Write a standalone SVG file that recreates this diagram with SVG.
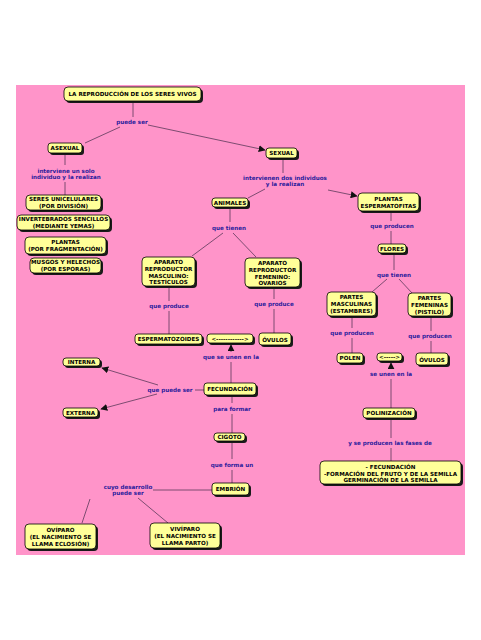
<svg xmlns="http://www.w3.org/2000/svg" width="481" height="640" viewBox="0 0 481 640">
<style>
.bg{fill:#ff94c9}
.sh{fill:#1a1a1a}
.bx{fill:#ffff99;stroke:#000;stroke-width:0.8}
.t{font-family:"DejaVu Sans",Verdana,sans-serif;font-weight:bold;font-size:5.6px;fill:#000;text-anchor:middle}
.l{font-family:"DejaVu Sans",Verdana,sans-serif;font-weight:bold;font-size:5.6px;fill:#2b1c9c;text-anchor:middle}
.c{stroke:#6e4466;stroke-width:0.9;fill:none}
.a{marker-end:url(#ah)}
</style>
<defs>
<marker id="ah" viewBox="0 0 10 10" refX="9" refY="5" markerWidth="7" markerHeight="7" markerUnits="userSpaceOnUse" orient="auto">
<path d="M0,0 L10,5 L0,10 z" fill="#111"/>
</marker>
</defs>
<rect width="481" height="640" fill="#fff"/>
<rect class="bg" x="16" y="85" width="449" height="470"/>

<g id="connectors">
<path class="c" d="M133,103 V117"/>
<path class="c" d="M120,127 L85,143"/>
<path class="c a" d="M148,125 L265,150"/>
<path class="c" d="M65,155 V165 M65,182 V195"/>
<path class="c" d="M283,160 V173"/>
<path class="c" d="M265,189 L248,198"/>
<path class="c a" d="M328,190 L357,196"/>
<path class="c" d="M230,209 V222"/>
<path class="c" d="M223,233 L192,256 M233,233 L256,257"/>
<path class="c" d="M169,288 V301 M169,311 V334"/>
<path class="c" d="M274,289 V299 M274,309 V333"/>
<path class="c" d="M231,383 V362"/>
<path class="c a" d="M231,352 V345"/>
<path class="c" d="M195,390 H204"/>
<path class="c a" d="M158,385 L102,368"/>
<path class="c a" d="M157,394 L101,409"/>
<path class="c" d="M232,397 V403 M232,414 V433"/>
<path class="c" d="M232,443 V459 M232,470 V483"/>
<path class="c" d="M212,490 H153"/>
<path class="c" d="M90,499 L82,523 M138,498 L168,523"/>
<path class="c" d="M391,213 V221 M391,231 V244"/>
<path class="c" d="M394,255 V270"/>
<path class="c" d="M387,279 L372,292 M399,279 L412,293"/>
<path class="c" d="M352,318 V328 M352,338 V353"/>
<path class="c" d="M431,318 V331 M431,341 V353"/>
<path class="c" d="M391,408 V379"/>
<path class="c a" d="M391,369 V363"/>
<path class="c" d="M391,420 V438 M391,448 V461"/>
</g>

<g id="labels">
<text class="l" x="132" y="124">puede ser</text>
<text class="l" x="66" y="173">interviene un solo</text>
<text class="l" x="66" y="179">individuo y la realizan</text>
<text class="l" x="285" y="180">intervienen dos individuos</text>
<text class="l" x="285" y="186">y la realizan</text>
<text class="l" x="229" y="230">que tienen</text>
<text class="l" x="169" y="308">que produce</text>
<text class="l" x="274" y="306">que produce</text>
<text class="l" x="231" y="359">que se unen en la</text>
<text class="l" x="170" y="392">que puede ser</text>
<text class="l" x="232" y="411">para formar</text>
<text class="l" x="232" y="467">que forma un</text>
<text class="l" x="128" y="489">cuyo desarrollo</text>
<text class="l" x="128" y="495">puede ser</text>
<text class="l" x="392" y="228">que producen</text>
<text class="l" x="394" y="277">que tienen</text>
<text class="l" x="352" y="335">que producen</text>
<text class="l" x="430" y="338">que producen</text>
<text class="l" x="391" y="376">se unen en la</text>
<text class="l" x="390" y="445">y se producen las fases de</text>
</g>

<g id="n-title"><rect class="sh" x="66" y="89" width="137" height="14" rx="4"/><rect class="bx" x="64" y="87" width="137" height="14" rx="4"/><text class="t" x="132.5" y="96">LA REPRODUCCIÓN DE LOS SERES VIVOS</text></g>
<g id="n-asexual"><rect class="sh" x="50" y="145" width="34" height="10" rx="3"/><rect class="bx" x="48" y="143" width="34" height="10" rx="3"/><text class="t" x="65" y="150">ASEXUAL</text></g>
<g id="n-sexual"><rect class="sh" x="268" y="150" width="31" height="10" rx="3"/><rect class="bx" x="266" y="148" width="31" height="10" rx="3"/><text class="t" x="281.5" y="155">SEXUAL</text></g>
<g id="n-unicel"><rect class="sh" x="28" y="197" width="75" height="15" rx="4"/><rect class="bx" x="26" y="195" width="75" height="15" rx="4"/><text class="t" x="63.5" y="201">SERES UNICELULARES</text><text class="t" x="63.5" y="207.5">(POR DIVISIÓN)</text></g>
<g id="n-invert"><rect class="sh" x="19" y="217" width="93" height="15" rx="4"/><rect class="bx" x="17" y="215" width="93" height="15" rx="4"/><text class="t" x="63.5" y="221">INVERTEBRADOS SENCILLOS</text><text class="t" x="63.5" y="228">(MEDIANTE YEMAS)</text></g>
<g id="n-plantasfrag"><rect class="sh" x="27" y="239" width="81" height="17" rx="4"/><rect class="bx" x="25" y="237" width="81" height="17" rx="4"/><text class="t" x="65.5" y="243.5">PLANTAS</text><text class="t" x="65.5" y="250.5">(POR FRAGMENTACIÓN)</text></g>
<g id="n-musgos"><rect class="sh" x="32" y="260" width="71" height="15" rx="4"/><rect class="bx" x="30" y="258" width="71" height="15" rx="4"/><text class="t" x="65.5" y="264">MUSGOS Y HELECHOS</text><text class="t" x="65.5" y="270.5">(POR ESPORAS)</text></g>
<g id="n-animales"><rect class="sh" x="214" y="200" width="36" height="9" rx="3"/><rect class="bx" x="212" y="198" width="36" height="9" rx="3"/><text class="t" x="230" y="204.5">ANIMALES</text></g>
<g id="n-plantasesp"><rect class="sh" x="360" y="195" width="61" height="18" rx="4"/><rect class="bx" x="358" y="193" width="61" height="18" rx="4"/><text class="t" x="388.5" y="200.5">PLANTAS</text><text class="t" x="388.5" y="208">ESPERMATOFITAS</text></g>
<g id="n-apmasc"><rect class="sh" x="144" y="259" width="53" height="29" rx="4"/><rect class="bx" x="142" y="257" width="53" height="29" rx="4"/><text class="t" x="168.5" y="263.5">APARATO</text><text class="t" x="168.5" y="270.5">REPRODUCTOR</text><text class="t" x="168.5" y="277.5">MASCULINO:</text><text class="t" x="168.5" y="284">TESTÍCULOS</text></g>
<g id="n-apfem"><rect class="sh" x="247" y="260" width="55" height="29" rx="4"/><rect class="bx" x="245" y="258" width="55" height="29" rx="4"/><text class="t" x="272.5" y="264.5">APARATO</text><text class="t" x="272.5" y="271.5">REPRODUCTOR</text><text class="t" x="272.5" y="278.5">FEMENINO:</text><text class="t" x="272.5" y="285">OVARIOS</text></g>
<g id="n-esperm"><rect class="sh" x="137" y="336" width="67" height="10" rx="3"/><rect class="bx" x="135" y="334" width="67" height="10" rx="3"/><text class="t" x="168.5" y="341">ESPERMATOZOIDES</text></g>
<g id="n-arrow1"><rect class="sh" x="209" y="336" width="46" height="9" rx="3"/><rect class="bx" x="207" y="334" width="46" height="9" rx="3"/><text class="t" x="230" y="340.5">&lt;------------&gt;</text></g>
<g id="n-ovulos1"><rect class="sh" x="261" y="335" width="32" height="12" rx="3"/><rect class="bx" x="259" y="333" width="32" height="12" rx="3"/><text class="t" x="275" y="341.5">ÓVULOS</text></g>
<g id="n-flores"><rect class="sh" x="380" y="246" width="28" height="9" rx="3"/><rect class="bx" x="378" y="244" width="28" height="9" rx="3"/><text class="t" x="392" y="250.5">FLORES</text></g>
<g id="n-pmasc"><rect class="sh" x="329" y="294" width="49" height="24" rx="4"/><rect class="bx" x="327" y="292" width="49" height="24" rx="4"/><text class="t" x="351.5" y="298.5">PARTES</text><text class="t" x="351.5" y="305.5">MASCULINAS</text><text class="t" x="351.5" y="312.5">(ESTAMBRES)</text></g>
<g id="n-pfem"><rect class="sh" x="410" y="295" width="43" height="23" rx="4"/><rect class="bx" x="408" y="293" width="43" height="23" rx="4"/><text class="t" x="429.5" y="299.5">PARTES</text><text class="t" x="429.5" y="306.5">FEMENINAS</text><text class="t" x="429.5" y="313.5">(PISTILO)</text></g>
<g id="n-polen"><rect class="sh" x="339" y="355" width="26" height="10" rx="3"/><rect class="bx" x="337" y="353" width="26" height="10" rx="3"/><text class="t" x="350" y="360">POLEN</text></g>
<g id="n-arrow2"><rect class="sh" x="379" y="355" width="25" height="8" rx="3"/><rect class="bx" x="377" y="353" width="25" height="8" rx="3"/><text class="t" x="389.5" y="359">&lt;-----&gt;</text></g>
<g id="n-ovulos2"><rect class="sh" x="418" y="355" width="32" height="12" rx="3"/><rect class="bx" x="416" y="353" width="32" height="12" rx="3"/><text class="t" x="432" y="361.5">ÓVULOS</text></g>
<g id="n-poliniz"><rect class="sh" x="365" y="410" width="52" height="10" rx="3"/><rect class="bx" x="363" y="408" width="52" height="10" rx="3"/><text class="t" x="389" y="415">POLINIZACIÓN</text></g>
<g id="n-fases"><rect class="sh" x="322" y="463" width="141" height="23" rx="4"/><rect class="bx" x="320" y="461" width="141" height="23" rx="4"/><text class="t" x="390.5" y="469">- FECUNDACIÓN</text><text class="t" x="390.5" y="475.5">-FORMACIÓN DEL FRUTO Y DE LA SEMILLA</text><text class="t" x="390.5" y="482">GERMINACIÓN DE LA SEMILLA</text></g>
<g id="n-interna"><rect class="sh" x="65" y="360" width="37" height="8" rx="3"/><rect class="bx" x="63" y="358" width="37" height="8" rx="3"/><text class="t" x="81.5" y="364">INTERNA</text></g>
<g id="n-externa"><rect class="sh" x="65" y="410" width="35" height="9" rx="3"/><rect class="bx" x="63" y="408" width="35" height="9" rx="3"/><text class="t" x="80.5" y="414.5">EXTERNA</text></g>
<g id="n-fecund"><rect class="sh" x="206" y="385" width="52" height="12" rx="3"/><rect class="bx" x="204" y="383" width="52" height="12" rx="3"/><text class="t" x="230" y="391">FECUNDACIÓN</text></g>
<g id="n-cigoto"><rect class="sh" x="216" y="435" width="31" height="8" rx="3"/><rect class="bx" x="214" y="433" width="31" height="8" rx="3"/><text class="t" x="229.5" y="439">CIGOTO</text></g>
<g id="n-embrion"><rect class="sh" x="214" y="485" width="37" height="12" rx="3"/><rect class="bx" x="212" y="483" width="37" height="12" rx="3"/><text class="t" x="230.5" y="491">EMBRIÓN</text></g>
<g id="n-oviparo"><rect class="sh" x="27" y="526" width="71" height="25" rx="4"/><rect class="bx" x="25" y="524" width="71" height="25" rx="4"/><text class="t" x="60.5" y="532">OVÍPARO</text><text class="t" x="60.5" y="539">(EL NACIMIENTO SE</text><text class="t" x="60.5" y="546">LLAMA ECLOSIÓN)</text></g>
<g id="n-viviparo"><rect class="sh" x="152" y="525" width="70" height="25" rx="4"/><rect class="bx" x="150" y="523" width="70" height="25" rx="4"/><text class="t" x="185" y="531">VIVÍPARO</text><text class="t" x="185" y="538">(EL NACIMIENTO SE</text><text class="t" x="185" y="545">LLAMA PARTO)</text></g>
</svg>
